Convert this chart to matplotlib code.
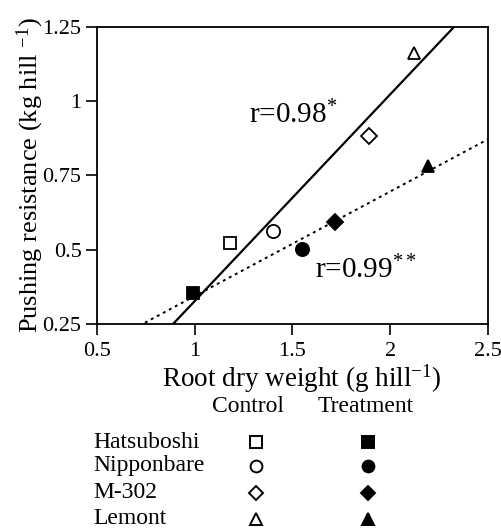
import matplotlib
matplotlib.use("Agg")
import matplotlib.pyplot as plt
import numpy as np

plt.rcParams['font.family'] = ['Liberation Serif', 'DejaVu Serif']
plt.rcParams['mathtext.fontset'] = 'custom'
plt.rcParams['mathtext.rm'] = 'Liberation Serif'
plt.rcParams['mathtext.it'] = 'Liberation Serif'

# data
cultivars = ["Hatsuboshi", "Nipponbare", "M-302", "Lemont"]
markers = ["s", "o", "D", "^"]
ctrl_x = [1.18, 1.40, 1.89, 2.12]
ctrl_y = [0.523, 0.564, 0.883, 1.164]
trt_x = [0.99, 1.547, 1.717, 2.195]
trt_y = [0.353, 0.501, 0.594, 0.783]

# regression lines (slope, intercept) as drawn
fit_ctrl = (0.696, -0.369)
fit_trt = (0.352, -0.008)

xticks = [0.5, 1, 1.5, 2, 2.5]
yticks = [0.25, 0.5, 0.75, 1, 1.25]

fig = plt.figure(figsize=(5.02, 5.29), dpi=100)
ax = fig.add_axes([0.193, 0.3875, 0.779, 0.5615])

xs = np.linspace(0.5, 2.5, 200)
ax.plot(xs, fit_ctrl[0] * xs + fit_ctrl[1], color='black', lw=1.6)
ax.plot(xs, fit_trt[0] * xs + fit_trt[1], color='black', lw=1.4, linestyle=(0, (1.5, 2.0)))

msz = {"s": 9, "o": 9.5, "D": 8, "^": 8.5}
for i, m in enumerate(markers):
    ax.plot(ctrl_x[i], ctrl_y[i], marker=m, ms=msz[m], mfc='white', mec='black', mew=1.3, ls='none')
    ax.plot(trt_x[i], trt_y[i], marker=m, ms=msz[m], mfc='black', mec='black', mew=1.3, ls='none')

ax.text(1.28, 0.925, r"r=0.98$^{*}$", fontsize=21)
ax.text(1.615, 0.403, r"r=0.99$^{**}$", fontsize=21)

ax.set_xlim(0.5, 2.5)
ax.set_ylim(0.25, 1.25)
ax.set_xticks(xticks)
ax.set_yticks(yticks)
ax.set_xticklabels(["%g" % t for t in xticks])
ax.set_yticklabels(["%g" % t for t in yticks])
ax.tick_params(direction='out', length=8, width=1.2, labelsize=16, pad=3)
ax.tick_params(axis='x', pad=5)
for s in ax.spines.values():
    s.set_linewidth(1.3)

ax.set_xlabel("Root dry weight (g hill$^{-1}$)", fontsize=19.5)
ax.xaxis.set_label_coords(0.524, -0.128)
ax.set_ylabel("Pushing resistance (kg hill $^{-1}$)", fontsize=19)
ax.yaxis.set_label_coords(-0.13, 0.5)

# legend below the axes
lax = fig.add_axes([0, 0, 1, 1])
lax.set_xlim(0, 1)
lax.set_ylim(0, 1)
lax.axis('off')
fig.text(0.495, 1 - 406 / 529, "Control", fontsize=17, ha='center', va='center')
fig.text(0.728, 1 - 406 / 529, "Treatment", fontsize=17, ha='center', va='center')
row_y = [442, 466, 493, 519]
lsz = {"s": 8, "o": 8.5, "D": 7.5, "^": 8}
for i, name in enumerate(cultivars):
    yy = 1 - row_y[i] / 529
    fig.text(0.185, yy, name, fontsize=17, ha='left', va='center')
    lax.plot(0.51, yy, marker=markers[i], ms=lsz[markers[i]], mfc='white', mec='black', mew=1.4, ls='none')
    lax.plot(0.733, yy, marker=markers[i], ms=lsz[markers[i]], mfc='black', mec='black', mew=1.4, ls='none')

fig.savefig("out.png", dpi=100)
